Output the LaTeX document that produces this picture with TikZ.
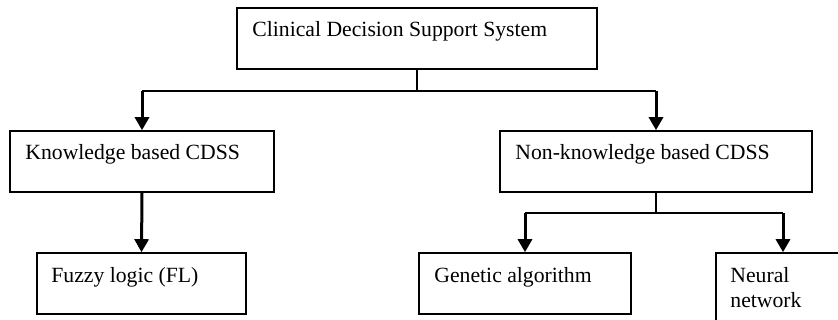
\documentclass[tikz,border=0pt]{standalone}
\usepackage{fontspec}
\setmainfont{Liberation Serif}
\usetikzlibrary{arrows.meta}
\begin{document}
\begin{tikzpicture}[x=1pt,y=-1pt,
  box/.style={draw=black, line width=1.6pt, rectangle, inner sep=0pt, fill=white},
  txt/.style={inner sep=0pt, anchor=base west, font=\fontsize{21.7}{25}\selectfont, align=left},
  arr/.style={line width=3pt, -{Triangle[length=13pt,width=14pt]}},
  hline/.style={line width=2pt},
  stem/.style={line width=1.2pt}]
\useasboundingbox (0,0) rectangle (838,320);
\clip (0,0) rectangle (838,320);
% boxes
\node[box, minimum width=360pt, minimum height=61pt] (cdss) at (417,38.5) {};
\node[box, minimum width=264pt, minimum height=61pt] (kb) at (142,161.5) {};
\node[box, minimum width=312pt, minimum height=61pt] (nk) at (656,161.5) {};
\node[box, minimum width=209pt, minimum height=61pt] (fl) at (141.5,283.5) {};
\node[box, minimum width=212pt, minimum height=61pt] (ga) at (525,283.5) {};
\node[box, minimum width=134pt, minimum height=77pt] (nn) at (783,291.5) {};
% texts
\node[txt] (tcdss) at ([xshift=16pt,yshift=-29pt]cdss.north west) {Clinical Decision Support System};
\node[txt] (tkb) at ([xshift=16pt,yshift=-29pt]kb.north west) {Knowledge based CDSS};
\node[txt] (tnk) at ([xshift=16pt,yshift=-29pt]nk.north west) {Non-knowledge based CDSS};
\node[txt] (tfl) at ([xshift=15pt,yshift=-30pt]fl.north west) {Fuzzy logic (FL)};
\node[txt] (tga) at ([xshift=16pt,yshift=-30pt]ga.north west) {Genetic algorithm};
\node[txt] (tnn) at ([xshift=15pt,yshift=-55pt]nn.north west) {Neural\\network};
% connectors top
\coordinate (j1) at ([yshift=-21pt]cdss.south);
\coordinate (jl) at (kb.north |- j1);
\coordinate (jr) at (nk.north |- j1);
\draw[stem] (cdss.south) -- (j1);
\draw[hline] (jl) -- (jr);
\draw[arr] (jl) -- (kb.north);
\draw[arr] (jr) -- (nk.north);
% knowledge
\draw[arr] (kb.south) -- (fl.north);
% non-knowledge
\coordinate (j2) at ([yshift=-20pt]nk.south);
\coordinate (gl) at (ga.north |- j2);
\coordinate (gr) at (nn.north |- j2);
\draw[stem] (nk.south) -- (j2);
\draw[hline] (gl) -- (gr);
\draw[arr] (gl) -- (ga.north);
\draw[arr] (gr) -- (nn.north);
\end{tikzpicture}
\end{document}
